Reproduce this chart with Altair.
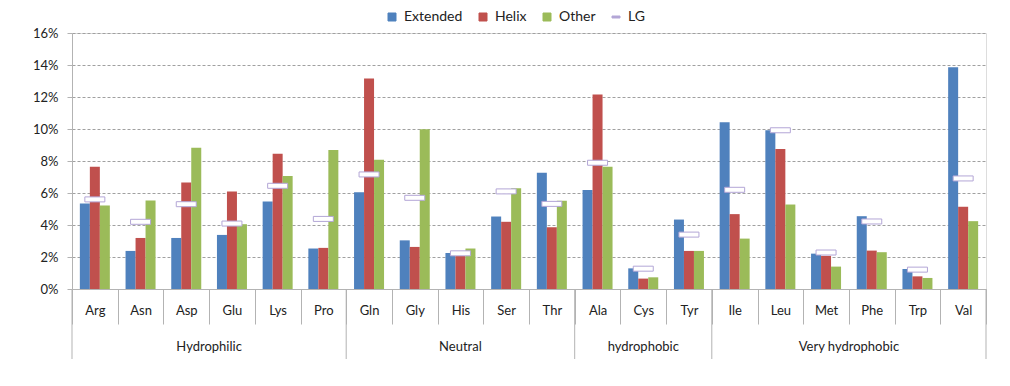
import altair as alt
import pandas as pd

amino = ["Arg", "Asn", "Asp", "Glu", "Lys", "Pro", "Gln", "Gly", "His", "Ser",
         "Thr", "Ala", "Cys", "Tyr", "Ile", "Leu", "Met", "Phe", "Trp", "Val"]
extended = [5.34, 2.38, 3.19, 3.38, 5.47, 2.53, 6.05, 3.04, 2.25, 4.53,
            7.27, 6.18, 1.29, 4.34, 10.42, 9.92, 2.21, 4.55, 1.25, 13.86]
helix = [7.64, 3.19, 6.66, 6.10, 8.46, 2.57, 13.15, 2.63, 2.09, 4.20,
         3.86, 12.15, 0.65, 2.38, 4.68, 8.75, 2.07, 2.40, 0.79, 5.14]
other = [5.22, 5.53, 8.83, 4.05, 7.06, 8.68, 8.08, 9.98, 2.53, 6.30,
         5.51, 7.64, 0.73, 2.38, 3.15, 5.28, 1.40, 2.30, 0.69, 4.24]
lg = [5.60, 4.20, 5.30, 4.09, 6.45, 4.38, 7.16, 5.70, 2.23, 6.10,
      5.32, 7.89, 1.27, 3.40, 6.20, 9.92, 2.28, 4.22, 1.21, 6.91]
groups = ["Hydrophilic", "Neutral", "hydrophobic", "Very hydrophobic"]
group_sizes = [6, 5, 3, 6]
y_ticks = [0, 2, 4, 6, 8, 10, 12, 14, 16]

series_names = ["Extended", "Helix", "Other", "LG"]
series_colors = ["#4F81BD", "#C0504D", "#9BBB59", "#B3A6D6"]
LG_PATH = "M-1,-0.25L1,-0.25L1,0.25L-1,0.25Z"

W, H = 914, 256
FONT = "Lato"
GRAY = "#B3B3B3"

rows = []
for name, vals in [("Extended", extended), ("Helix", helix), ("Other", other)]:
    for a, v in zip(amino, vals):
        rows.append({"aa": a, "series": name, "value": v})
bars_df = pd.DataFrame(rows)
lg_df = pd.DataFrame({"aa": amino, "series": "LG", "value": lg})

bounds, centers = [0], []
for s in group_sizes:
    centers.append(bounds[-1] + s / 2)
    bounds.append(bounds[-1] + s)
bound_df = pd.DataFrame({"b": bounds})
group_df = pd.DataFrame({"g": groups, "c": centers})

color_scale = alt.Scale(domain=series_names, range=series_colors)
shape_scale = alt.Scale(domain=series_names, range=["square", "square", "square", LG_PATH])

x_band = alt.X(
    "aa:N", sort=amino, title=None,
    scale=alt.Scale(type="band", paddingInner=0, paddingOuter=0),
    axis=alt.Axis(labelAngle=0, tickBand="extent", tickSize=35, tickColor=GRAY,
                  domainColor=GRAY, labelPadding=-20, labelFontSize=13,
                  labelFont=FONT, labelColor="#222", grid=False),
)
y_axis = alt.Axis(values=y_ticks, labelExpr="datum.value + '%'", labelOverlap=False,
                  tickSize=5, tickColor=GRAY, domainColor=GRAY, labelPadding=9,
                  labelFontSize=13, labelFont=FONT, labelColor="#222",
                  grid=True, gridColor="#A0A0A0", gridDash=[3, 2], gridWidth=1)
y_scale = alt.Scale(domain=[0, 16], nice=False)

legend = alt.Legend(title=None, orient="none", direction="horizontal",
                    legendX=313, legendY=-23, symbolSize=64, labelFontSize=14,
                    labelFont=FONT, labelColor="#222", columnPadding=13,
                    labelOffset=5, symbolStrokeWidth=1)

bars = alt.Chart(bars_df).mark_bar(size=10).encode(
    x=x_band,
    xOffset=alt.XOffset("series:N", sort=["Extended", "Helix", "Other"],
                        scale=alt.Scale(domain=["Extended", "Helix", "Other"],
                                        paddingInner=0, paddingOuter=0.785)),
    y=alt.Y("value:Q", title=None, scale=y_scale, axis=y_axis),
    color=alt.Color("series:N", scale=color_scale, legend=legend),
)

points = alt.Chart(lg_df).mark_point(filled=False, size=400, strokeWidth=1, opacity=1).encode(
    x=alt.X("aa:N", sort=amino),
    y=alt.Y("value:Q", title=None, scale=y_scale, axis=y_axis),
    color=alt.Color("series:N", scale=color_scale, legend=legend),
    shape=alt.Shape("series:N", scale=shape_scale, legend=legend),
    fill=alt.value("white"),
)

qscale = alt.Scale(domain=[0, sum(group_sizes)], nice=False, zero=False)
group_rules = alt.Chart(bound_df).mark_rule(color=GRAY, strokeWidth=1).encode(
    x=alt.X("b:Q", scale=qscale, axis=None), y=alt.value(H), y2=alt.value(H + 70),
)
group_text = alt.Chart(group_df).mark_text(font=FONT, fontSize=13, color="#222", baseline="middle").encode(
    x=alt.X("c:Q", scale=qscale, axis=None),
    y=alt.value(H + 58),
    text="g:N",
)

inner = alt.layer(bars, points)
chart = alt.layer(inner, group_rules, group_text).resolve_scale(x="independent").properties(
    width=W, height=H,
    autosize=alt.AutoSizeParams(type="none"),
    padding={"left": 64, "top": 25, "right": 16, "bottom": 88},
).configure_view(stroke=None).configure(background="white")

chart.save("out.html", embed_options={"renderer": "svg", "actions": False})
